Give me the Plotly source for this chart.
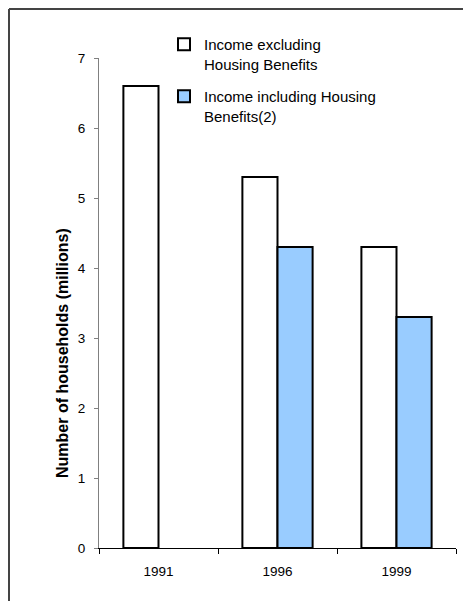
import plotly.graph_objects as go

years = ["1991", "1996", "1999"]
excl_hb = [6.6, 5.3, 4.3]
incl_hb = [None, 4.3, 3.3]
series_names = ["Income excluding<br>Housing Benefits", "Income including Housing<br>Benefits(2)"]
y_ticks = [0, 1, 2, 3, 4, 5, 6, 7]

W, H = 471, 601
ML, MR, MT, MB = 91, 23, 50, 61
pw, ph = W - ML - MR, H - MT - MB

fig = go.Figure()
fig.add_trace(go.Bar(x=years, y=excl_hb, name=series_names[0], legendgroup="a",
                     marker=dict(color="#FFFFFF", line=dict(color="#000000", width=2))))
fig.add_trace(go.Bar(x=years, y=incl_hb, name=series_names[1], legendgroup="b",
                     marker=dict(color="#99CCFF", line=dict(color="#000000", width=2))))

def px_x(v):
    return (v - ML) / pw

def px_y(v):
    return (H - MB - v) / ph

fig.update_layout(
    width=W, height=H,
    margin=dict(l=ML, r=MR, t=MT, b=MB, autoexpand=False),
    paper_bgcolor="white", plot_bgcolor="white",
    barmode="group", bargap=0.41, bargroupgap=0,
    font=dict(family="Liberation Sans, Arial", color="#000000"),
    showlegend=True,
    legend=dict(xref="paper", yref="paper", x=px_x(156), y=px_y(20),
                xanchor="left", yanchor="top", bgcolor="rgba(0,0,0,0)",
                font=dict(size=15, family="Liberation Sans, Arial"),
                tracegroupgap=10, valign="top", traceorder="grouped"),
    xaxis=dict(showline=True, linecolor="#000000", linewidth=1, ticks="outside",
               tickson="boundaries", ticklen=5, tickcolor="#000000",
               tickfont=dict(size=13.5), showgrid=False, ticklabelstandoff=11),
    yaxis=dict(range=[0, 7], tickvals=y_ticks, showline=True, linecolor="#808080",
               linewidth=1, ticks="outside", ticklen=4, tickcolor="#808080",
               tickfont=dict(size=13.5), showgrid=False, zeroline=False,
               ticklabelstandoff=6),
    shapes=[
        dict(type="line", xref="paper", yref="paper", x0=px_x(1), x1=px_x(W + 5),
             y0=px_y(1), y1=px_y(1), line=dict(color="#444444", width=2)),
        dict(type="line", xref="paper", yref="paper", x0=px_x(1), x1=px_x(1),
             y0=px_y(1), y1=px_y(H + 5), line=dict(color="#444444", width=2)),
    ],
    annotations=[
        dict(text="<b>Number of households (millions)</b>", textangle=-90,
             xref="paper", yref="paper", x=px_x(54), y=px_y(345),
             xanchor="center", yanchor="middle", showarrow=False,
             font=dict(size=16)),
    ],
)

fig.write_html("out.html")
